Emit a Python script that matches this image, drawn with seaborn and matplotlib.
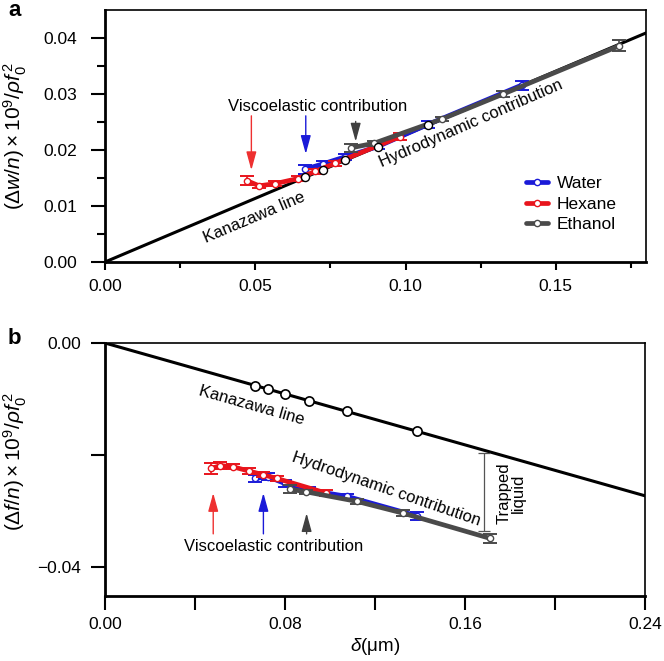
import numpy as np
import pandas as pd
import matplotlib
matplotlib.use("Agg")
import matplotlib.pyplot as plt
import seaborn as sns
from matplotlib.lines import Line2D

# ---------------- data ----------------
series_names = ["Water", "Hexane", "Ethanol"]
series_colors = {"Water": "#1a1ad8", "Hexane": "#e8141c", "Ethanol": "#4a4a4a"}

water_d = [0.0667, 0.0724, 0.0800, 0.0907, 0.1076, 0.1387]
water_a = [0.0166, 0.0175, 0.0188, 0.0206, 0.0246, 0.0316]
water_a_err = [0.0008, 0.0005, 0.0005, 0.0005, 0.0006, 0.0008]
water_b = [-0.0242, -0.0239, -0.0251, -0.0263, -0.0274, -0.0309]
water_b_err = [0.0007, 0.0006, 0.0006, 0.0005, 0.0005, 0.0007]

hexane_d = [0.0473, 0.0513, 0.0567, 0.0642, 0.0700, 0.0764, 0.0982]
hexane_a = [0.0145, 0.0136, 0.0140, 0.0149, 0.0162, 0.0176, 0.0224]
hexane_a_err = [0.0008, 0.0004, 0.0004, 0.0004, 0.0004, 0.0005, 0.0006]
hexane_b = [-0.0224, -0.0219, -0.0221, -0.0229, -0.0235, -0.0242, -0.0268]
hexane_b_err = [0.0010, 0.0006, 0.0004, 0.0005, 0.0005, 0.0005, 0.0006]

ethanol_d = [0.0820, 0.0895, 0.1120, 0.1325, 0.1711]
ethanol_a = [0.0204, 0.0212, 0.0255, 0.0300, 0.0386]
ethanol_a_err = [0.0007, 0.0004, 0.0004, 0.0006, 0.0010]
ethanol_b = [-0.0261, -0.0266, -0.0283, -0.0304, -0.0349]
ethanol_b_err = [0.0007, 0.0004, 0.0004, 0.0005, 0.0008]

# Kanazawa line end points and the marked points on it
kanazawa_a_x = [0.0, 0.18]
kanazawa_a_y = [0.0, 0.0409]
kanazawa_b_x = [0.0, 0.24]
kanazawa_b_y = [0.0, -0.0273]
kan_pts_a_d = [0.0667, 0.0724, 0.0800, 0.0907, 0.1076]
kan_pts_a_v = [0.0151, 0.0164, 0.0182, 0.0206, 0.0244]
kan_pts_b_d = [0.0667, 0.0724, 0.0800, 0.0907, 0.1076, 0.1387]
kan_pts_b_v = [-0.0076, -0.0082, -0.0091, -0.0103, -0.0122, -0.0158]

trapped_x = 0.1684
trapped_top, trapped_bottom = -0.0197, -0.0336

a_xticks = [0.00, 0.05, 0.10, 0.15]
a_xticklabels = ["0.00", "0.05", "0.10", "0.15"]
a_yticks = [0.00, 0.01, 0.02, 0.03, 0.04]
a_yticklabels = ["0.00", "0.01", "0.02", "0.03", "0.04"]
b_xticks = [0.00, 0.08, 0.16, 0.24]
b_xticklabels = ["0.00", "0.08", "0.16", "0.24"]
b_yticks = [0.00, -0.02, -0.04]
b_yticklabels = ["0.00", "", "\u22120.04"]

# ---------------- style ----------------
sns.set_theme(style="ticks")
plt.rcParams["font.family"] = ["Liberation Sans", "DejaVu Sans"]
plt.rcParams["mathtext.fontset"] = "custom"
plt.rcParams["mathtext.rm"] = "Liberation Sans"
plt.rcParams["mathtext.it"] = "Liberation Sans:italic"
plt.rcParams["mathtext.bf"] = "Liberation Sans:bold"
plt.rcParams["axes.unicode_minus"] = True
for key in ("text.color", "axes.labelcolor", "xtick.color", "ytick.color", "axes.edgecolor"):
    plt.rcParams[key] = "black"

fig = plt.figure(figsize=(6.64, 6.61), dpi=100)
ax_a = fig.add_axes([105 / 664, 1 - 262 / 661, 541 / 664, 252 / 661])
ax_b = fig.add_axes([105 / 664, 1 - 596 / 661, 540 / 664, 253 / 661])

def make_df(d, v, e, name):
    return pd.DataFrame({"d": d, "v": v, "err": e, "liquid": name})

def draw_series(ax, frames, zorders):
    for df, z in zip(frames, zorders):
        name = df["liquid"].iloc[0]
        c = series_colors[name]
        ax.errorbar(df["d"], df["v"], yerr=df["err"], fmt="none", ecolor=c,
                    elinewidth=1.2, capsize=5, capthick=1.4, zorder=z)
        sns.lineplot(data=df, x="d", y="v", ax=ax, color=c, lw=3.4, sort=False,
                     marker="o", markersize=4.5, markerfacecolor="white",
                     markeredgecolor=c, markeredgewidth=1.0, zorder=z + 0.5,
                     legend=False, estimator=None)

arrow_style = "-|>,head_length=0.8,head_width=0.22"

# ---------------- panel a ----------------
ax = ax_a
sns.lineplot(x=kanazawa_a_x, y=kanazawa_a_y, ax=ax, color="black", lw=2.2, zorder=1)
frames_a = [make_df(water_d, water_a, water_a_err, "Water"),
            make_df(hexane_d, hexane_a, hexane_a_err, "Hexane"),
            make_df(ethanol_d, ethanol_a, ethanol_a_err, "Ethanol")]
draw_series(ax, frames_a, [2, 3, 4])
ax.scatter(kan_pts_a_d, kan_pts_a_v, s=34, facecolor="white", edgecolor="black",
           linewidth=1.0, zorder=6)

ax.set_xlim(0, 0.18)
ax.set_ylim(0, 0.045)
ax.set_xticks(a_xticks)
ax.set_xticklabels(a_xticklabels)
ax.set_xticks([0.025, 0.075, 0.125, 0.175], minor=True)
ax.set_yticks(a_yticks)
ax.set_yticklabels(a_yticklabels)
ax.set_yticks([0.005, 0.015, 0.025, 0.035], minor=True)
ax.tick_params(axis="x", which="major", length=6, width=1.5, pad=6, labelsize=12.5)
ax.tick_params(axis="x", which="minor", length=4, width=1.5)
ax.tick_params(axis="y", which="major", length=10, width=1.5, pad=10, labelsize=12.5)
ax.tick_params(axis="y", which="minor", length=6, width=1.5)
ax.set_xlabel("")
ax.set_ylabel(r"$(\mathit{\Delta w/n})\times10^9/\mathit{\rho f}_{\mathit{0}}^{\,2}$", fontsize=15)
ax.yaxis.set_label_coords(-0.14, 0.5)

ax.text(0.0708, 0.0277, "Viscoelastic contribution", fontsize=12, ha="center", va="center")
ax.annotate("", xy=(0.0487, 0.0164), xytext=(0.0487, 0.0261),
            arrowprops=dict(arrowstyle=arrow_style, color="#ee3030", lw=1.0,
                            mutation_scale=14, shrinkA=0, shrinkB=0))
ax.annotate("", xy=(0.0668, 0.0193), xytext=(0.0668, 0.0261),
            arrowprops=dict(arrowstyle=arrow_style, color="#1a1ad8", lw=1.0,
                            mutation_scale=14, shrinkA=0, shrinkB=0))
ax.annotate("", xy=(0.0834, 0.0215), xytext=(0.0834, 0.0251),
            arrowprops=dict(arrowstyle=arrow_style, color="#404040", lw=1.0,
                            mutation_scale=14, shrinkA=0, shrinkB=0))
ax.text(0.0498, 0.0080, "Kanazawa line", fontsize=12, ha="center", va="center",
        rotation=23, rotation_mode="anchor")
ax.text(0.1219, 0.0248, "Hydrodynamic contribution", fontsize=12, ha="center", va="center",
        rotation=23.5, rotation_mode="anchor")

handles = [Line2D([0], [0], color=series_colors[n], lw=3.4, marker="o", markersize=4.5,
                  markerfacecolor="white", markeredgecolor=series_colors[n]) for n in series_names]
ax.legend(handles, series_names, loc="center left", bbox_to_anchor=(0.765, 0.23),
          frameon=False, fontsize=12.5, handlelength=1.3, handletextpad=0.5,
          labelspacing=0.3, borderaxespad=0)

# ---------------- panel b ----------------
ax = ax_b
sns.lineplot(x=kanazawa_b_x, y=kanazawa_b_y, ax=ax, color="black", lw=2.2, zorder=1)
ax.scatter(kan_pts_b_d, kan_pts_b_v, s=44, facecolor="white", edgecolor="black",
           linewidth=1.2, zorder=6)
frames_b = [make_df(water_d, water_b, water_b_err, "Water"),
            make_df(hexane_d, hexane_b, hexane_b_err, "Hexane"),
            make_df(ethanol_d, ethanol_b, ethanol_b_err, "Ethanol")]
draw_series(ax, frames_b, [2, 3, 4])

ax.errorbar([trapped_x], [(trapped_top + trapped_bottom) / 2],
            yerr=[(trapped_top - trapped_bottom) / 2], fmt="none", ecolor="#555555",
            elinewidth=0.9, capsize=4, capthick=0.9)
ax.text(0.1805, -0.0268, "Trapped\nliquid", fontsize=12, ha="center", va="center",
        rotation=90, multialignment="center", linespacing=1.0)

ax.set_xlim(0, 0.24)
ax.set_ylim(-0.0452, 0)
ax.set_xticks(b_xticks)
ax.set_xticklabels(b_xticklabels)
ax.set_xticks([0.04, 0.12, 0.20], minor=True)
ax.set_yticks(b_yticks)
ax.set_yticklabels(b_yticklabels)
ax.tick_params(axis="both", which="major", length=10, width=1.5, pad=5, labelsize=12.5)
ax.tick_params(axis="x", which="minor", length=10, width=1.5)
ax.tick_params(axis="y", which="major", pad=7)
ax.set_xlabel(r"$\mathit{\delta}$(μm)", fontsize=13.5, labelpad=3)
ax.set_ylabel(r"$(\mathit{\Delta f/n})\times10^9/\mathit{\rho f}_{\mathit{0}}^{\,2}$", fontsize=15)
ax.yaxis.set_label_coords(-0.14, 0.53)

ax.annotate("", xy=(0.0481, -0.0268), xytext=(0.0481, -0.0341),
            arrowprops=dict(arrowstyle=arrow_style, color="#ee3030", lw=1.0,
                            mutation_scale=14, shrinkA=0, shrinkB=0))
ax.annotate("", xy=(0.0704, -0.0268), xytext=(0.0704, -0.0341),
            arrowprops=dict(arrowstyle=arrow_style, color="#1a1ad8", lw=1.0,
                            mutation_scale=14, shrinkA=0, shrinkB=0))
ax.annotate("", xy=(0.0896, -0.0304), xytext=(0.0896, -0.0341),
            arrowprops=dict(arrowstyle=arrow_style, color="#404040", lw=1.0,
                            mutation_scale=14, shrinkA=0, shrinkB=0))
ax.text(0.0751, -0.0364, "Viscoelastic contribution", fontsize=12, ha="center", va="center")
ax.text(0.0653, -0.0111, "Kanazawa line", fontsize=12, ha="center", va="center",
        rotation=-15.8, rotation_mode="anchor")
ax.text(0.1249, -0.0262, "Hydrodynamic contribution", fontsize=12, ha="center", va="center",
        rotation=-19, rotation_mode="anchor")

for a in (ax_a, ax_b):
    for s in ("left", "bottom"):
        a.spines[s].set_linewidth(2.0)
    for s in ("top", "right"):
        a.spines[s].set_linewidth(1.2)
    a.spines["top"].set_visible(True)
    a.spines["right"].set_visible(True)

fig.text(8 / 664, 1 - 10 / 661, "a", fontsize=16, fontweight="bold", ha="left", va="center")
fig.text(8 / 664, 1 - 338 / 661, "b", fontsize=16, fontweight="bold", ha="left", va="center")

fig.savefig("out.png", dpi=100)
